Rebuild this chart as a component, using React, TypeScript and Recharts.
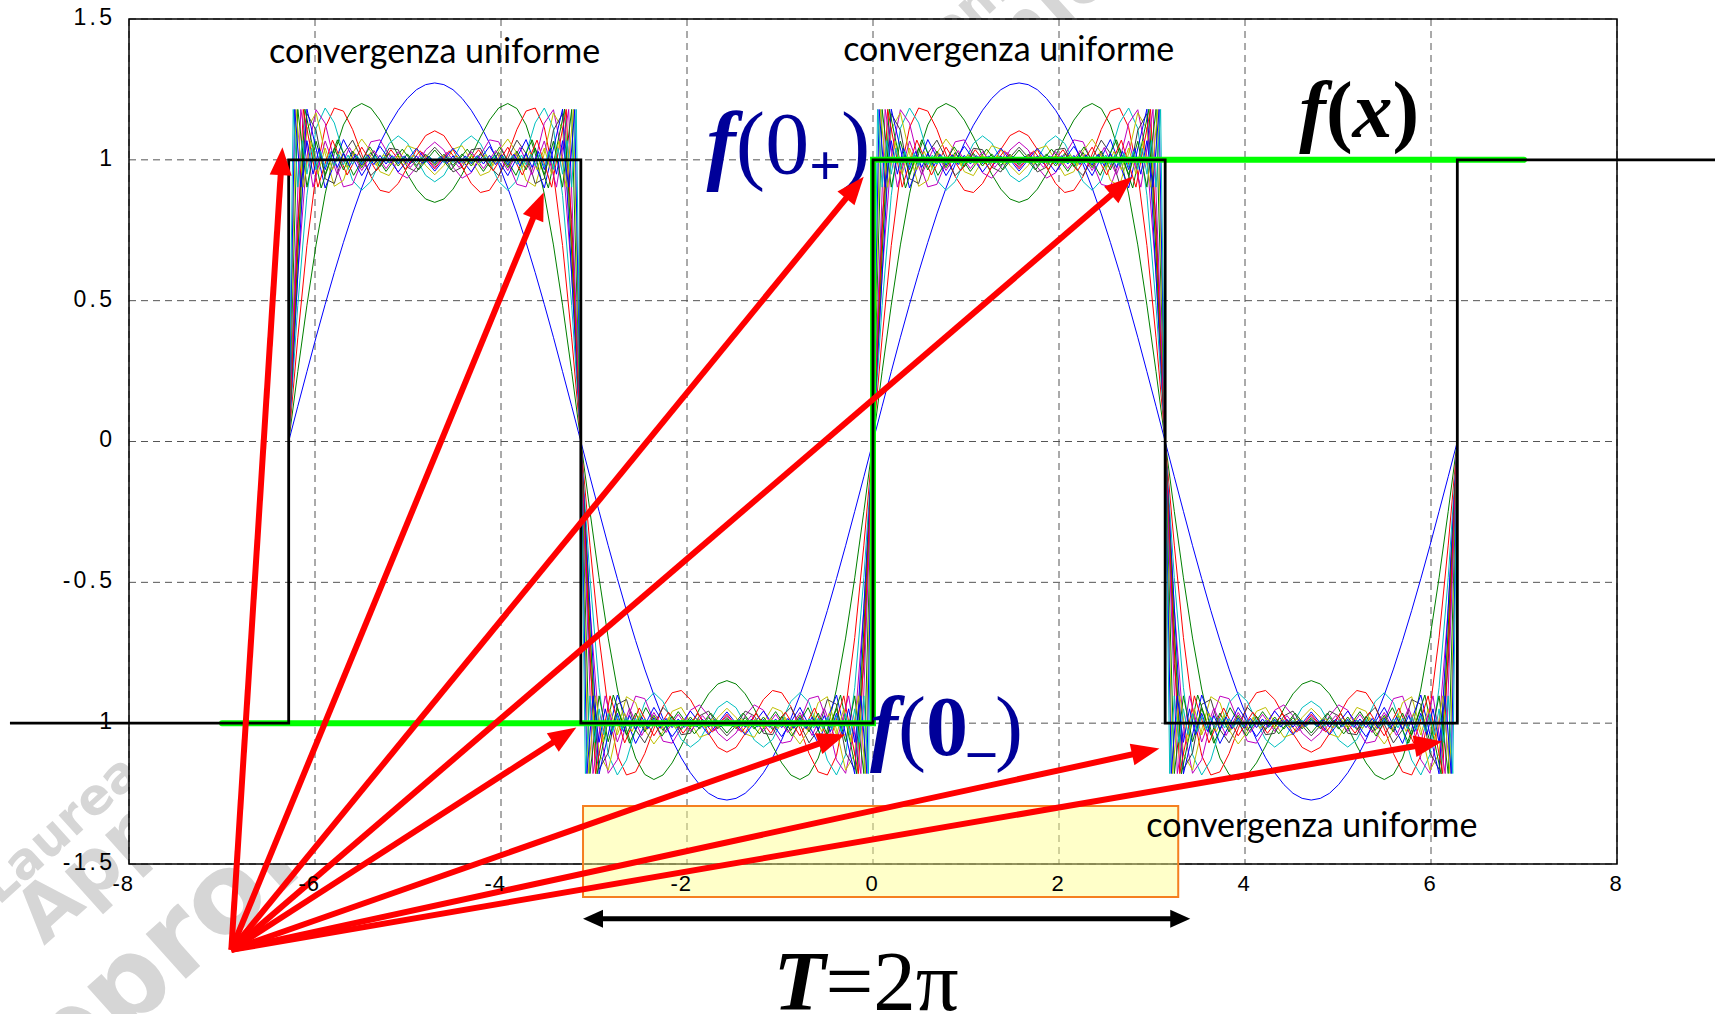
import React from 'react';
import {
  LineChart, Line, XAxis, YAxis, CartesianGrid,
  ReferenceArea, ReferenceLine, ReferenceDot,
} from 'recharts';

const PI = 3.14159265;

// Fourier partial sums read off the picture on one half period [0, π]
// (N = number of odd harmonics). Values on the other half periods repeat with the square wave's sign.
const sum1 = [0, 0.125, 0.248, 0.370, 0.487, 0.600, 0.707, 0.808, 0.900, 0.984, 1.059, 1.123, 1.176, 1.218, 1.249, 1.267, 1.273, 1.267, 1.249, 1.218, 1.176, 1.123, 1.059, 0.984, 0.900, 0.808, 0.707, 0.600, 0.487, 0.370, 0.248, 0.125, 0];
const sum2 = [0, 0.248, 0.484, 0.698, 0.879, 1.023, 1.124, 1.182, 1.200, 1.184, 1.141, 1.081, 1.014, 0.949, 0.896, 0.861, 0.849, 0.861, 0.896, 0.949, 1.014, 1.081, 1.141, 1.184, 1.200, 1.182, 1.124, 1.023, 0.879, 0.698, 0.484, 0.248, 0];
const sum3 = [0, 0.368, 0.696, 0.951, 1.115, 1.184, 1.173, 1.108, 1.020, 0.941, 0.892, 0.884, 0.916, 0.974, 1.037, 1.086, 1.103, 1.086, 1.037, 0.974, 0.916, 0.884, 0.892, 0.941, 1.020, 1.108, 1.173, 1.184, 1.115, 0.951, 0.696, 0.368, 0];
const sum4 = [0, 0.483, 0.874, 1.112, 1.184, 1.131, 1.022, 0.927, 0.892, 0.923, 0.993, 1.058, 1.085, 1.060, 1.002, 0.945, 0.922, 0.945, 1.002, 1.060, 1.085, 1.058, 0.993, 0.923, 0.892, 0.927, 1.022, 1.131, 1.184, 1.112, 0.874, 0.483, 0];
const sum5 = [0, 0.593, 1.013, 1.178, 1.130, 0.996, 0.904, 0.913, 0.992, 1.064, 1.071, 1.017, 0.954, 0.935, 0.974, 1.035, 1.063, 1.035, 0.974, 0.935, 0.954, 1.017, 1.071, 1.064, 0.992, 0.913, 0.904, 0.996, 1.130, 1.178, 1.013, 0.593, 0];
const sum6 = [0, 0.695, 1.109, 1.167, 1.023, 0.906, 0.927, 1.024, 1.074, 1.030, 0.958, 0.944, 0.998, 1.050, 1.038, 0.980, 0.947, 0.980, 1.038, 1.050, 0.998, 0.944, 0.958, 1.030, 1.074, 1.024, 0.927, 0.906, 1.023, 1.167, 1.109, 0.695, 0];
const sum7 = [0, 0.789, 1.164, 1.105, 0.933, 0.916, 1.023, 1.070, 1.004, 0.944, 0.977, 1.041, 1.036, 0.974, 0.957, 1.009, 1.045, 1.009, 0.957, 0.974, 1.036, 1.041, 0.977, 0.944, 1.004, 1.070, 1.023, 0.916, 0.933, 1.105, 1.164, 0.789, 0];
const sum8 = [0, 1.18, 0.90, 1.072, 0.944, 1.048, 0.957, 1.041, 0.960, 1.041, 0.957, 1.048, 0.944, 1.072, 0.90, 1.18, 0];
const sum9 = [0, 1.18, 0.90, 1.071, 0.945, 1.046, 0.959, 1.038, 0.964, 1.035, 0.964, 1.038, 0.959, 1.046, 0.945, 1.071, 0.90, 1.18, 0];
const sum10 = [0, 1.179, 0.903, 1.070, 0.946, 1.045, 0.961, 1.036, 0.967, 1.032, 0.968, 1.032, 0.967, 1.036, 0.961, 1.045, 0.946, 1.070, 0.903, 1.179, 0];
const sum12 = [0, 1.179, 0.903, 1.067, 0.947, 1.044, 0.962, 1.033, 0.969, 1.029, 0.973, 1.027, 0.973, 1.027, 0.973, 1.029, 0.969, 1.033, 0.962, 1.044, 0.947, 1.067, 0.903, 1.179, 0];
const sum16 = [0, 1.179, 0.903, 1.066, 0.948, 1.042, 0.964, 1.031, 0.972, 1.026, 0.976, 1.023, 0.978, 1.021, 0.980, 1.020, 0.980, 1.020, 0.980, 1.021, 0.978, 1.023, 0.976, 1.026, 0.972, 1.031, 0.964, 1.042, 0.948, 1.066, 0.903, 1.179, 0];
const sum20 = [0, 1.179, 0.903, 1.067, 0.949, 1.042, 0.965, 1.030, 0.973, 1.025, 0.977, 1.021, 0.980, 1.019, 0.982, 1.017, 0.983, 1.016, 0.984, 1.016, 0.984, 1.016, 0.984, 1.016, 0.983, 1.017, 0.982, 1.019, 0.980, 1.021, 0.977, 1.025, 0.973, 1.030, 0.965, 1.042, 0.949, 1.067, 0.903, 1.179, 0];
const sum24 = [0, 1.179, 0.903, 1.068, 0.949, 1.041, 0.965, 1.030, 0.973, 1.024, 0.978, 1.020, 0.981, 1.018, 0.983, 1.016, 0.985, 1.015, 0.986, 1.014, 0.986, 1.014, 0.987, 1.013, 0.987, 1.013, 0.987, 1.014, 0.986, 1.014, 0.986, 1.015, 0.985, 1.016, 0.983, 1.018, 0.981, 1.020, 0.978, 1.024, 0.973, 1.030, 0.965, 1.041, 0.949, 1.068, 0.903, 1.179, 0];
const sum32 = [0, 1.179, 0.903, 1.068, 0.949, 1.041, 0.966, 1.030, 0.974, 1.023, 0.979, 1.019, 0.982, 1.017, 0.984, 1.015, 0.986, 1.013, 0.987, 1.012, 0.988, 1.012, 0.989, 1.011, 0.989, 1.011, 0.990, 1.010, 0.990, 1.010, 0.990, 1.010, 0.990, 1.010, 0.990, 1.010, 0.990, 1.010, 0.990, 1.011, 0.989, 1.011, 0.989, 1.012, 0.988, 1.012, 0.987, 1.013, 0.986, 1.015, 0.984, 1.017, 0.982, 1.019, 0.979, 1.023, 0.974, 1.030, 0.966, 1.041, 0.949, 1.068, 0.903, 1.179, 0];

const partialSums = [sum1, sum2, sum3, sum4, sum5, sum6, sum7, sum8, sum9, sum10, sum12, sum16, sum20, sum24, sum32];
const sumColors = ['#0000FF', '#008000', '#FF0000', '#00BFBF', '#BF00BF', '#BFBF00', '#404040', '#0000FF', '#008000', '#FF0000', '#BF00BF', '#008000', '#BFBF00', '#0000FF', '#00BFBF'];

// half-period starts (in units of π) and square-wave sign on each
const periodStarts = [-2, -1, 0, 1];
const periodSigns = [1, -1, 1, -1];

// square wave f(x) (black) and the green f(x) around the origin
const squareX = [-9.28, -6.283, -6.283, -3.1416, -3.1416, 0, 0, 3.1416, 3.1416, 6.283, 6.283, 9.4];
const squareY = [-1, -1, 1, 1, -1, -1, 1, 1, -1, -1, 1, 1];
const greenX = [-7, 0, 0, 7.0];
const greenY = [-1, -1, 1, 1];

const xTicks = [-8, -6, -4, -2, 0, 2, 4, 6, 8];
const xTickLabels = ['-8', '-6', '-4', '-2', '0', '2', '4', '6', '8'];
const yTicks = [-1.5, -1, -0.5, 0, 0.5, 1, 1.5];
const yTickLabels = ['-1.5', '-1', '-0.5', '0', '0.5', '1', '1.5'];

// red arrows: common origin and tips
const arrowFromX = -6.9;
const arrowFromY = -1.805;
const arrowTipX = [-6.35, -3.54, -0.10, 2.79, -3.19, -0.30, 3.08, 6.12];
const arrowTipY = [1.045, 0.885, 0.94, 0.94, -1.015, -1.04, -1.09, -1.065];

// period box and double arrow
const boxX = [-3.118, 3.282];
const boxY = [-1.617, -1.294];
const periodArrowX = [-3.118, 3.411];
const periodArrowY = -1.694;

// annotation anchors
const convX = [-6.495, -0.321, 2.938];
const convY = [1.345, 1.352, -1.404];
const convText = 'convergenza uniforme';

const buildSeries = (half: number[]) => {
  const m = half.length - 1;
  const pts: { x: number; y: number }[] = [];
  periodStarts.forEach((s, p) => {
    half.forEach((v, k) => {
      if (p > 0 && k === 0) return;
      pts.push({ x: s * PI + (k * PI) / m, y: periodSigns[p] * v });
    });
  });
  return pts;
};
const zip = (xs: number[], ys: number[]) => xs.map((x, i) => ({ x, y: ys[i] }));

const sumData = partialSums.map(buildSeries);
const squareData = zip(squareX, squareY);
const greenData = zip(greenX, greenY);

const SERIF = "'Liberation Serif', 'Times New Roman', serif";
const SANS = "'Liberation Sans', Arial, sans-serif";

const XTick = (props: any) => {
  const { x, y, payload } = props;
  const v = payload.value;
  const label = xTickLabels[xTicks.indexOf(v)];
  const neg = v < 0;
  return (
    <text x={neg ? x + 5 : x - 1} y={y} dy="0.71em" textAnchor={neg ? 'end' : 'middle'}
      fontFamily={SANS} fontSize={22} letterSpacing={1} fill="#000">{label}</text>
  );
};
const YTick = (props: any) => {
  const { x, y, payload } = props;
  const label = yTickLabels[yTicks.indexOf(payload.value)];
  return (
    <text x={x + 3.2} y={y} dy="0.26em" textAnchor="end" fontFamily={SANS} fontSize={23} letterSpacing={3.2} fill="#000">{label}</text>
  );
};

const makeArrow = (color: string, w: number, head: number, half: number, both: boolean) => (p: any) => {
  const { x1, y1, x2, y2 } = p;
  if ([x1, y1, x2, y2].some((v) => typeof v !== 'number' || isNaN(v))) return <g />;
  const dx = x2 - x1;
  const dy = y2 - y1;
  const L = Math.hypot(dx, dy) || 1;
  const ux = dx / L;
  const uy = dy / L;
  const nx = -uy;
  const ny = ux;
  const headPts = (tx: number, ty: number, dir: number) => {
    const bx = tx - dir * ux * head;
    const by = ty - dir * uy * head;
    return `${tx},${ty} ${bx + nx * half},${by + ny * half} ${bx - nx * half},${by - ny * half}`;
  };
  const sx = both ? x1 + ux * head * 0.8 : x1;
  const sy = both ? y1 + uy * head * 0.8 : y1;
  const ex = x2 - ux * head * 0.8;
  const ey = y2 - uy * head * 0.8;
  return (
    <g>
      <line x1={sx} y1={sy} x2={ex} y2={ey} stroke={color} strokeWidth={w} />
      <polygon points={headPts(x2, y2, 1)} fill={color} />
      {both && <polygon points={headPts(x1, y1, -1)} fill={color} />}
    </g>
  );
};
const redArrow = makeArrow('#FF0000', 6, 28, 11, false);
const blackArrow = makeArrow('#000000', 5, 20, 9, true);

const textAt = (render: (cx: number, cy: number) => React.ReactElement) => (p: any) => {
  if (typeof p.cx !== 'number' || typeof p.cy !== 'number') return <g />;
  return render(p.cx, p.cy);
};

const convShape = textAt((cx, cy) => (
  <text x={cx} y={cy} fontFamily="Lato, 'Open Sans', sans-serif" fontSize={34} fill="#000">{convText}</text>
));
const f0pShape = textAt((cx, cy) => (
  <text x={cx} y={cy} fontFamily={SERIF} fontSize={88} fill="#000099">
    <tspan fontStyle="italic" fontWeight="bold">f</tspan>
    <tspan>(0</tspan>
    <tspan fontSize={56} fontWeight="bold" dy={12}>+</tspan>
    <tspan dy={-12}>)</tspan>
  </text>
));
const f0mShape = textAt((cx, cy) => (
  <text x={cx} y={cy} fontFamily={SERIF} fontSize={84} fill="#000099">
    <tspan fontStyle="italic" fontWeight="bold">f</tspan>
    <tspan>(</tspan>
    <tspan fontWeight="bold">0</tspan>
    <tspan fontSize={54} fontWeight="bold" dy={-6}>_</tspan>
    <tspan dy={6}>)</tspan>
  </text>
));
const fxShape = textAt((cx, cy) => (
  <text x={cx} y={cy} fontFamily={SERIF} fontSize={80} fontWeight="bold" fill="#000">
    <tspan fontStyle="italic">f</tspan>
    <tspan>(</tspan>
    <tspan fontStyle="italic">x</tspan>
    <tspan>)</tspan>
  </text>
));
const periodShape = textAt((cx, cy) => (
  <text x={cx} y={cy} fontFamily={SERIF} fontSize={85} fill="#000">
    <tspan fontStyle="italic" fontWeight="bold">T</tspan>
    <tspan>=2π</tspan>
  </text>
));

const wmStyle = (left: number, bottom: number, size: number): React.CSSProperties => ({
  position: 'absolute',
  left,
  top: bottom - size,
  fontSize: size,
  lineHeight: 1,
  fontFamily: "'DejaVu Sans', sans-serif",
  fontWeight: 'bold',
  color: '#d6d6d6',
  whiteSpace: 'nowrap',
  transform: 'rotate(-42deg)',
  transformOrigin: '0 100%',
});

export default function App() {
  return (
    <div style={{ position: 'absolute', left: 0, top: 0, width: 1715, height: 1014, overflow: 'hidden', background: '#fff' }}>
      <style>{`.sq-wave, .sq-wave * { clip-path: none !important; }`}</style>
      <div style={wmStyle(4, 912, 50)}>Laurea in Ingegneria Elettronica e delle Telecomunicazioni</div>
      <div style={wmStyle(52, 955, 76)}>Appunti del corso di Elettrotecnica</div>
      <div style={wmStyle(10, 1160, 110)}>Approfondimenti teorici</div>
      <div style={{ position: 'absolute', left: 0, top: 0 }}>
        <LineChart width={1715} height={1014} margin={{ top: 19, right: 98, bottom: 120, left: 69 }}>
          <CartesianGrid stroke="#555" strokeDasharray="7 5" fill="#fff" fillOpacity={1} />
          <XAxis type="number" dataKey="x" domain={[-8, 8]} ticks={xTicks} allowDataOverflow
            height={30} tickLine={false} axisLine={false} tickSize={0} tickMargin={11} tick={<XTick />} interval={0} />
          <YAxis type="number" domain={[-1.5, 1.5]} ticks={yTicks} allowDataOverflow
            width={60} tickLine={false} axisLine={false} tickSize={0} tickMargin={17} tick={<YTick />} interval={0} />
          {sumData.map((d, i) => (
            <Line key={`s${i}`} data={d} dataKey="y" type="linear" stroke={sumColors[i]} strokeWidth={1}
              dot={false} activeDot={false} isAnimationActive={false} />
          ))}
          <Line data={greenData} dataKey="y" type="linear" stroke="#00FF00" strokeWidth={6} strokeLinecap="round"
            dot={false} activeDot={false} isAnimationActive={false} />
          <Line className="sq-wave" data={squareData} dataKey="y" type="linear" stroke="#000" strokeWidth={2.8}
            dot={false} activeDot={false} isAnimationActive={false} />
          <ReferenceArea x1={-8} x2={8} y1={-1.5} y2={1.5} fill="none" stroke="#000" strokeWidth={1.5} ifOverflow="visible" zIndex={450} />
          <ReferenceArea x1={boxX[0]} x2={boxX[1]} y1={boxY[0]} y2={boxY[1]} fill="#FFFF88" fillOpacity={0.45}
            stroke="#F57F20" strokeWidth={2} ifOverflow="visible" zIndex={650} />
          {convX.map((x, i) => (
            <ReferenceDot key={`c${i}`} x={x} y={convY[i]} r={0} ifOverflow="visible" shape={convShape} zIndex={800} />
          ))}
          <ReferenceDot x={-1.79} y={0.955} r={0} ifOverflow="visible" shape={f0pShape} zIndex={800} />
          <ReferenceDot x={-0.031} y={-1.113} r={0} ifOverflow="visible" shape={f0mShape} zIndex={800} />
          <ReferenceDot x={4.584} y={1.081} r={0} ifOverflow="visible" shape={fxShape} zIndex={800} />
          <ReferenceDot x={-1.07} y={-2.018} r={0} ifOverflow="visible" shape={periodShape} zIndex={800} />
          {arrowTipX.map((x, i) => (
            <ReferenceLine key={`a${i}`} segment={[{ x: arrowFromX, y: arrowFromY }, { x, y: arrowTipY[i] }]}
              ifOverflow="visible" shape={redArrow} zIndex={900} />
          ))}
          <ReferenceLine segment={[{ x: periodArrowX[0], y: periodArrowY }, { x: periodArrowX[1], y: periodArrowY }]}
            ifOverflow="visible" shape={blackArrow} zIndex={900} />
        </LineChart>
      </div>
    </div>
  );
}
